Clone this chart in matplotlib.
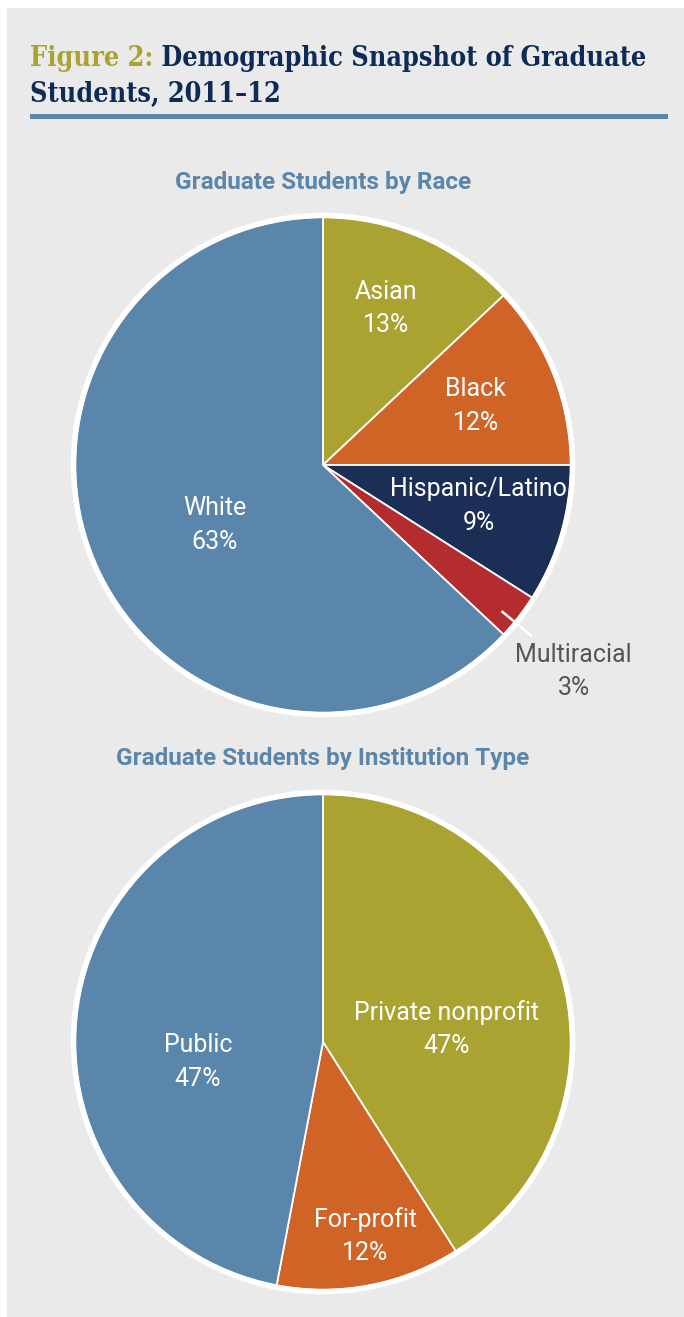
import matplotlib
matplotlib.use("Agg")
import matplotlib.pyplot as plt
from matplotlib.patches import Rectangle, Circle
import numpy as np

# ---- data ----
race_labels = ["Asian", "Black", "Hispanic/Latino", "Multiracial", "White"]
race_values = [13, 12, 9, 3, 63]
race_pct_text = ["13%", "12%", "9%", "3%", "63%"]

inst_labels = ["Private nonprofit", "For-profit", "Public"]
inst_values = [41, 12, 47]
inst_pct_text = ["47%", "12%", "47%"]

title_prefix = "Figure 2:"
title_line1 = " Demographic Snapshot of Graduate"
title_line2 = "Students, 2011\u201312"
sub1 = "Graduate Students by Race"
sub2 = "Graduate Students by Institution Type"

# ---- style ----
BLUE = "#5A86AC"
OLIVE = "#AAA331"
ORANGE = "#D06426"
NAVY = "#1B2F56"
RED = "#B52C2E"
TITLE_NAVY = "#0E2A56"
BG = "#E9EAE9"
race_colors = [OLIVE, ORANGE, NAVY, RED, BLUE]
inst_colors = [OLIVE, ORANGE, BLUE]

LABEL_FONT = ["Roboto", "DejaVu Sans"]
TITLE_FONT = ["DejaVu Serif"]

W, H = 684, 1317
fig = plt.figure(figsize=(W / 100, H / 100), dpi=100)
fig.patch.set_facecolor("white")

def fx(x):
    return x / W

def fy(y):
    return 1 - y / H

# background panel
fig.patches.append(Rectangle((fx(7), fy(1317)), fx(684 - 7), fy(8) - fy(1317),
                             transform=fig.transFigure, facecolor=BG, edgecolor="none", zorder=-10))
# title rule
fig.patches.append(Rectangle((fx(30), fy(119)), fx(668 - 30), fy(114) - fy(119),
                             transform=fig.transFigure, facecolor=BLUE, edgecolor="none", zorder=-5))

# title
tkw = dict(fontsize=19.4, fontweight="bold", family=TITLE_FONT, fontstretch="condensed",
           va="baseline", ha="left")
t1 = fig.text(fx(30), fy(66), title_prefix, color=OLIVE, **tkw)
fig.canvas.draw()
bb = t1.get_window_extent()
fig.text(bb.x1 / W, fy(66), title_line1, color=TITLE_NAVY, **tkw)
fig.text(fx(30), fy(102), title_line2, color=TITLE_NAVY, **tkw)

# subtitles
fig.text(fx(323), fy(182), sub1, color=BLUE, fontsize=17.5, fontweight="bold",
         family=LABEL_FONT, ha="center", va="center")
fig.text(fx(323), fy(759), sub2, color=BLUE, fontsize=17.5, fontweight="bold",
         family=LABEL_FONT, ha="center", va="center")


def make_pie(cx, cy, r, values, colors, names, pcts, dists, shifts, txtcolors):
    ax = fig.add_axes([fx(cx - r), fy(cy + r), (2 * r) / W, (2 * r) / H])
    ax.set_zorder(5)
    ax.axis("off")
    wedges, _ = ax.pie(values, colors=colors, startangle=90, counterclock=False, radius=1,
                       wedgeprops=dict(edgecolor="white", linewidth=1.3))
    ax.set_xlim(-1, 1)
    ax.set_ylim(-1, 1)
    ax.set_aspect("auto")
    for w in wedges:
        w.set_clip_on(False)
    ring = Circle((0, 0), 1.006, facecolor="none", edgecolor="white", linewidth=4, clip_on=False)
    ax.add_patch(ring)
    for w, name, pct, d, s, tc in zip(wedges, names, pcts, dists, shifts, txtcolors):
        mid = np.deg2rad((w.theta1 + w.theta2) / 2 + s)
        x, y = d * np.cos(mid), d * np.sin(mid)
        ax.text(x, y, name + "\n" + pct, ha="center", va="center", color=tc,
                fontsize=18, family=LABEL_FONT, linespacing=1.5, clip_on=False)
    return ax, wedges


ax1, w1 = make_pie(323, 465, 248, race_values, race_colors, race_labels, race_pct_text,
                   [0.68, 0.66, 0.65, 1.31, 0.50], [1.5, -0.5, 1.5, -1.7, 5.5],
                   ["white", "white", "white", "#555555", "white"])
# leader line for Multiracial
wm = w1[3]
am = np.deg2rad((wm.theta1 + wm.theta2) / 2 - 1.5)
ax1.plot([0.93 * np.cos(am), 1.09 * np.cos(am)], [0.93 * np.sin(am), 1.09 * np.sin(am)],
         color="white", linewidth=1.8, clip_on=False, solid_capstyle="butt")

ax2, w2 = make_pie(323, 1042, 248, inst_values, inst_colors, inst_labels, inst_pct_text,
                   [0.50, 0.80, 0.51], [-10.2, 1.5, 14.4],
                   ["white", "white", "white"])

fig.savefig("out.png", dpi=100, facecolor=fig.get_facecolor())
